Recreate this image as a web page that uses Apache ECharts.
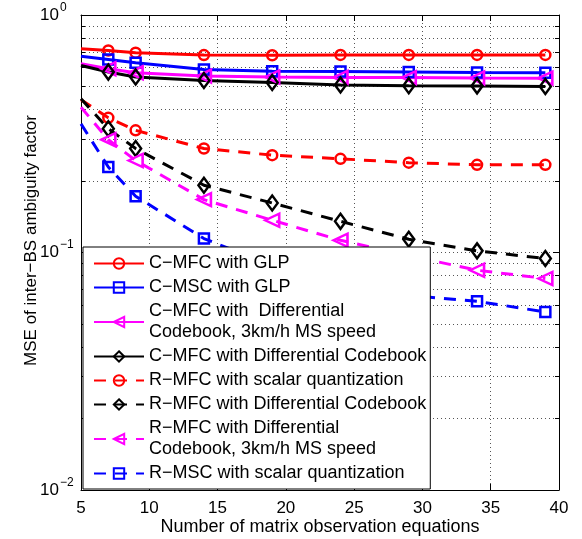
<!DOCTYPE html>
<html>
<head>
<meta charset="utf-8">
<script src="https://cdn.jsdelivr.net/npm/echarts@6/dist/echarts.min.js"></script>
<style>
  html, body { margin: 0; padding: 0; background: #fff; }
  #chart { width: 582px; height: 539px; }
</style>
</head>
<body>
<div id="chart"></div>
<script>
// Number of matrix observation equations
var xValues = [5, 7, 9, 14, 19, 24, 29, 34, 39];

// MSE of the inter-BS ambiguity factor for each scheme
var cmfcGlp     = [0.721, 0.709, 0.694, 0.678, 0.677, 0.679, 0.679, 0.679, 0.679];
var cmscGlp     = [0.671, 0.650, 0.629, 0.590, 0.579, 0.578, 0.575, 0.572, 0.571];
var cmfcDiff3   = [0.623, 0.594, 0.571, 0.553, 0.548, 0.546, 0.545, 0.543, 0.542];
var cmfcDiff    = [0.613, 0.575, 0.548, 0.530, 0.520, 0.507, 0.504, 0.503, 0.500];
var rmfcScalar  = [0.440, 0.369, 0.327, 0.274, 0.257, 0.248, 0.239, 0.234, 0.234];
var rmfcDiff    = [0.444, 0.332, 0.274, 0.192, 0.1616, 0.1353, 0.1137, 0.1016, 0.0943];
var rmfcDiff3   = [0.409, 0.2985, 0.244, 0.167, 0.1367, 0.1126, 0.097, 0.0842, 0.0777];
var rmscScalar  = [0.348, 0.229, 0.1725, 0.1145, 0.088, 0.075, 0.066, 0.0623, 0.0562];

var seriesNames = [
  'C\u2212MFC with GLP',
  'C\u2212MSC with GLP',
  'C\u2212MFC with  Differential\nCodebook, 3km/h MS speed',
  'C\u2212MFC with Differential Codebook',
  'R\u2212MFC with scalar quantization',
  'R\u2212MFC with Differential Codebook',
  'R\u2212MFC with Differential\nCodebook, 3km/h MS speed',
  'R\u2212MSC with scalar quantization'
];

var xTicks = [5, 10, 15, 20, 25, 30, 35, 40];

var FONT = 'Liberation Sans, Arial, Helvetica, sans-serif';

function makeSeries(name, values, color, symbol, rotate, dashed) {
  var data = xValues.map(function (x, i) {
    var item = { value: [x, values[i]] };
    if (i === 0) item.symbol = 'none';
    return item;
  });
  var size = symbol === 'triangle' ? [13, 14] : (symbol === 'diamond' ? [11, 15] : 10);
  return {
    name: name,
    type: 'line',
    data: data,
    symbol: symbol,
    symbolSize: size,
    symbolRotate: rotate,
    showSymbol: true,
    lineStyle: { color: color, width: 3, type: dashed ? [12, 9] : 'solid' },
    itemStyle: { color: 'rgba(255,255,255,0)', borderColor: color, borderWidth: 2.5 },
    emphasis: { disabled: true },
    clip: true,
    z: 3
  };
}

var series = [
  makeSeries(seriesNames[0], cmfcGlp, '#ff0000', 'circle', 0, false),
  makeSeries(seriesNames[1], cmscGlp, '#0000ff', 'rect', 0, false),
  makeSeries(seriesNames[2], cmfcDiff3, '#ff00ff', 'triangle', 90, false),
  makeSeries(seriesNames[3], cmfcDiff, '#000000', 'diamond', 0, false),
  makeSeries(seriesNames[4], rmfcScalar, '#ff0000', 'circle', 0, true),
  makeSeries(seriesNames[5], rmfcDiff, '#000000', 'diamond', 0, true),
  makeSeries(seriesNames[6], rmfcDiff3, '#ff00ff', 'triangle', 90, true),
  makeSeries(seriesNames[7], rmscScalar, '#0000ff', 'rect', 0, true)
];

function logLabel(v) {
  var e = Math.round(Math.log10(v));
  var s = e < 0 ? '\u2212' + (-e) : String(e);
  return '{b|10}{e|' + s + '}';
}

var gridLine = { show: true, lineStyle: { color: '#555', width: 1, type: [1, 3] } };

var chart = echarts.init(document.getElementById('chart'), null, { renderer: 'canvas' });
chart.setOption({
  animation: false,
  backgroundColor: '#fff',
  grid: { left: 81, right: 23, top: 15, bottom: 49, containLabel: false, outerBoundsMode: 'none' },
  xAxis: [{
    type: 'value', min: 5, max: 40, interval: 5,
    axisLine: { show: true, onZero: false, lineStyle: { color: '#000', width: 1 } },
    axisTick: { show: true, inside: true, length: 6, lineStyle: { color: '#000' } },
    axisLabel: { show: true, margin: 10, color: '#000', fontSize: 17, fontFamily: FONT,
      formatter: function (v) { return xTicks.indexOf(v) >= 0 ? String(v) : ''; } },
    splitLine: gridLine,
    name: 'Number of matrix observation equations',
    nameLocation: 'middle', nameGap: 28, nameMoveOverlap: false,
    nameTextStyle: { color: '#000', fontSize: 18, fontFamily: FONT }
  }, {
    type: 'value', min: 5, max: 40, interval: 5, position: 'top',
    axisLine: { show: true, onZero: false, lineStyle: { color: '#000', width: 1 } },
    axisTick: { show: true, inside: true, length: 6, lineStyle: { color: '#000' } },
    axisLabel: { show: false },
    splitLine: { show: false }
  }],
  yAxis: [{
    type: 'log', logBase: 10, min: 0.01, max: 1,
    axisLine: { show: true, onZero: false, lineStyle: { color: '#000', width: 1 } },
    axisTick: { show: true, inside: true, length: 6, lineStyle: { color: '#000' } },
    minorTick: { show: true, splitNumber: 9, length: 4, lineStyle: { color: '#000' } },
    minorSplitLine: gridLine,
    splitLine: gridLine,
    axisLabel: {
      show: true, margin: 41, align: 'left', color: '#000', fontFamily: FONT,
      formatter: logLabel,
      rich: {
        b: { fontSize: 17, fontFamily: FONT, color: '#000' },
        e: { fontSize: 12, fontFamily: FONT, color: '#000', padding: [0, 0, 15, 1] }
      }
    },
    name: 'MSE of inter\u2212BS ambiguity factor',
    nameLocation: 'middle', nameGap: 41, nameMoveOverlap: false,
    nameTextStyle: { color: '#000', fontSize: 17, fontFamily: FONT, padding: [0, 0, 0, 24] }
  }, {
    type: 'log', logBase: 10, min: 0.01, max: 1, position: 'right',
    axisLine: { show: true, onZero: false, lineStyle: { color: '#000', width: 1 } },
    axisTick: { show: true, inside: true, length: 6, lineStyle: { color: '#000' } },
    minorTick: { show: true, splitNumber: 9, length: 4, lineStyle: { color: '#000' } },
    axisLabel: { show: false },
    splitLine: { show: false }
  }],
  legend: {
    show: true,
    orient: 'vertical',
    left: 83, top: 247,
    padding: [6, 4, 5, 10],
    itemGap: 3,
    itemWidth: 50, itemHeight: 13,
    backgroundColor: '#fff',
    borderColor: '#000', borderWidth: 1,
    align: 'left',
    selectedMode: false,
    textStyle: { color: '#000', fontSize: 18, fontFamily: FONT, lineHeight: 21 },
    data: seriesNames
  },
  series: series
});
</script>
</body>
</html>
